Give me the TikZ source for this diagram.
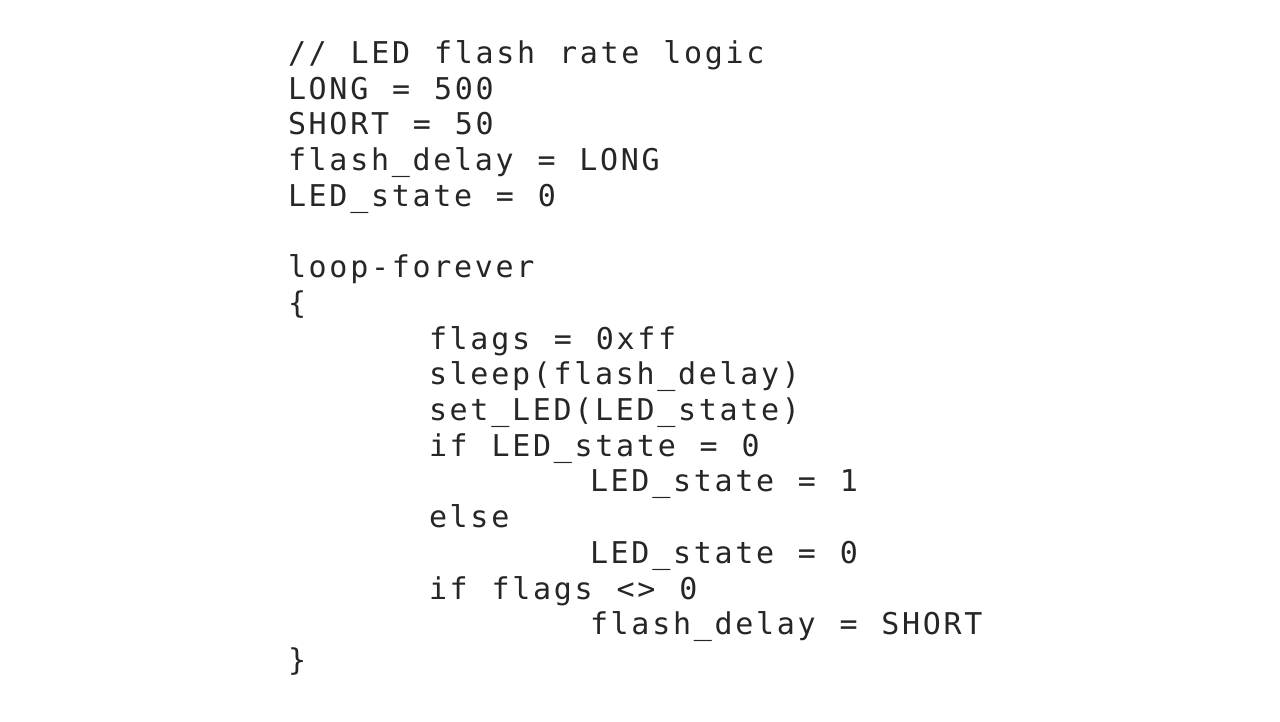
\documentclass[tikz,border=0pt]{standalone}
\usepackage{fontspec}
\newfontfamily\codefont[LetterSpace=9,WordSpace=1.15]{DejaVu Sans Mono}
\definecolor{codeink}{HTML}{262626}
\tikzset{
  codeline/.style={anchor=base west, inner sep=0pt, outer sep=0pt,
    font=\codefont\fontsize{30pt}{30pt}\selectfont, text=codeink}
}
\begin{document}
\begin{tikzpicture}[x=1pt,y=1pt]
\useasboundingbox[fill=white] (0,0) rectangle (1280,721);
\def\bl#1{721-63.5-#1*35.7}
\node[codeline] (c0)  at (288,{\bl{0}})  {// LED flash rate logic};
\node[codeline] (c1)  at (288,{\bl{1}})  {LONG = 500};
\node[codeline] (c2)  at (288,{\bl{2}})  {SHORT = 50};
\node[codeline] (c3)  at (288,{\bl{3}})  {flash\_delay = LONG};
\node[codeline] (c4)  at (288,{\bl{4}})  {LED\_state = 0};
\node[codeline] (c6)  at (288,{\bl{6}})  {loop-forever};
\node[codeline] (c7)  at (288,{\bl{7}})  {\{};
\node[codeline] (c8)  at (429,{\bl{8}})  {flags = 0xff};
\node[codeline] (c9)  at (429,{\bl{9}})  {sleep(flash\_delay)};
\node[codeline] (c10) at (429,{\bl{10}}) {set\_LED(LED\_state)};
\node[codeline] (c11) at (429,{\bl{11}}) {if LED\_state = 0};
\node[codeline] (c12) at (590,{\bl{12}}) {LED\_state = 1};
\node[codeline] (c13) at (429,{\bl{13}}) {else};
\node[codeline] (c14) at (590,{\bl{14}}) {LED\_state = 0};
\node[codeline] (c15) at (429,{\bl{15}}) {if flags <> 0};
\node[codeline] (c16) at (590,{\bl{16}}) {flash\_delay = SHORT};
\node[codeline] (c17) at (288,{\bl{17}}) {\}};
\end{tikzpicture}
\end{document}
